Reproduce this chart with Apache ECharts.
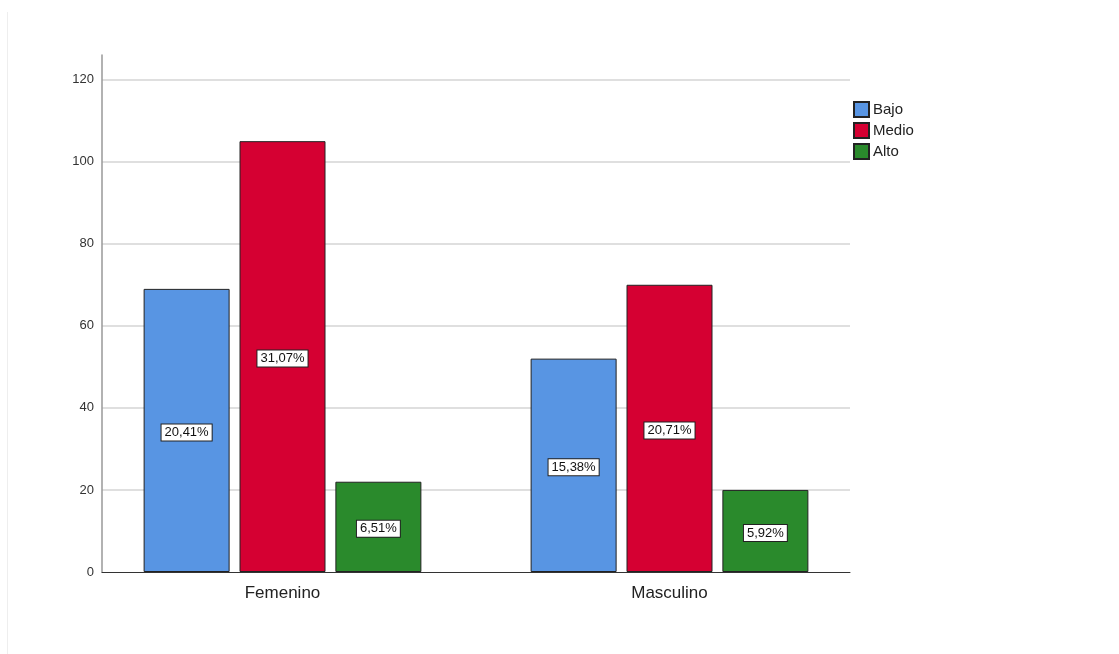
<!DOCTYPE html>
<html>
<head>
<meta charset="utf-8">
<script src="https://cdn.jsdelivr.net/npm/echarts@6/dist/echarts.min.js"></script>
<style>html,body{margin:0;padding:0;background:#fff;}#c{width:1119px;height:654px;}</style>
</head>
<body>
<div id="c"></div>
<script>
const categories = ['Femenino', 'Masculino'];
const seriesNames = ['Bajo', 'Medio', 'Alto'];
const bajo = [69, 52];
const medio = [105, 70];
const alto = [22, 20];
const yTicks = [0, 20, 40, 60, 80, 100, 120];
const colors = ['#5895e3', '#d50032', '#2a8a2c'];

const total = [...bajo, ...medio, ...alto].reduce((a, b) => a + b, 0);
const pct = v => (v / total * 100).toFixed(2).replace('.', ',') + '%';

const chart = echarts.init(document.getElementById('c'));
const mk = (name, data, color) => ({
  name, type: 'bar', data, xAxisIndex: 0, yAxisIndex: 0,
  barWidth: 86, barGap: '11.5%',
  itemStyle: { color, borderColor: '#222', borderWidth: 1 },
  label: {
    show: true, position: 'inside', formatter: p => pct(p.value),
    color: '#111', fontFamily: 'Liberation Sans, Arial', fontSize: 13,
    backgroundColor: '#fff', borderColor: '#222', borderWidth: 1,
    padding: [2, 3, 1, 3], offset: [0, 2]
  },
  emphasis: { disabled: true }
});

chart.setOption({
  animation: false,
  backgroundColor: '#fff',
  graphic: [{
    type: 'line', shape: { x1: 7.5, y1: 12, x2: 7.5, y2: 654 },
    style: { stroke: '#eeeeee', lineWidth: 1 }, silent: true, z: -10
  }],
  legend: {
    orient: 'vertical', left: 848, top: 96,
    itemWidth: 15, itemHeight: 15, itemGap: 4,
    icon: 'rect',
    textStyle: { fontFamily: 'Liberation Sans, Arial', fontSize: 15, color: '#222', padding: [0, 0, 0, -1] },
    data: seriesNames
  },
  grid: [
    { left: 89, width: 774, top: 55, bottom: 82 },
    { left: 102, right: 269, top: 55, bottom: 82 }
  ],
  xAxis: [
    {
      type: 'category', gridIndex: 0, data: categories,
      axisLine: { show: false }, axisTick: { show: false },
      axisLabel: { fontFamily: 'Liberation Sans, Arial', fontSize: 17, color: '#222', margin: 13 }
    },
    {
      type: 'category', gridIndex: 1, data: categories,
      axisLine: { show: true, lineStyle: { color: '#333', width: 1 } },
      axisTick: { show: false }, axisLabel: { show: false }
    }
  ],
  yAxis: [
    {
      type: 'value', gridIndex: 0, min: 0, max: 126, interval: 20,
      axisLine: { show: false }, axisTick: { show: false },
      axisLabel: { show: false }, splitLine: { show: false }
    },
    {
      type: 'value', gridIndex: 1, min: 0, max: 126, interval: 20,
      axisLine: { show: true, lineStyle: { color: '#999', width: 1.5 } },
      axisTick: { show: false },
      axisLabel: {
        showMaxLabel: false, margin: 8,
        formatter: v => (yTicks.indexOf(v) >= 0 ? String(v) : ''),
        fontFamily: 'Liberation Sans, Arial', fontSize: 13, color: '#333'
      },
      splitLine: { show: true, showMaxLine: false, showMinLine: false, lineStyle: { color: '#d4d4d4', width: 1.5 } }
    }
  ],
  series: [
    mk(seriesNames[0], bajo, colors[0]),
    mk(seriesNames[1], medio, colors[1]),
    mk(seriesNames[2], alto, colors[2])
  ]
});
</script>
</body>
</html>
